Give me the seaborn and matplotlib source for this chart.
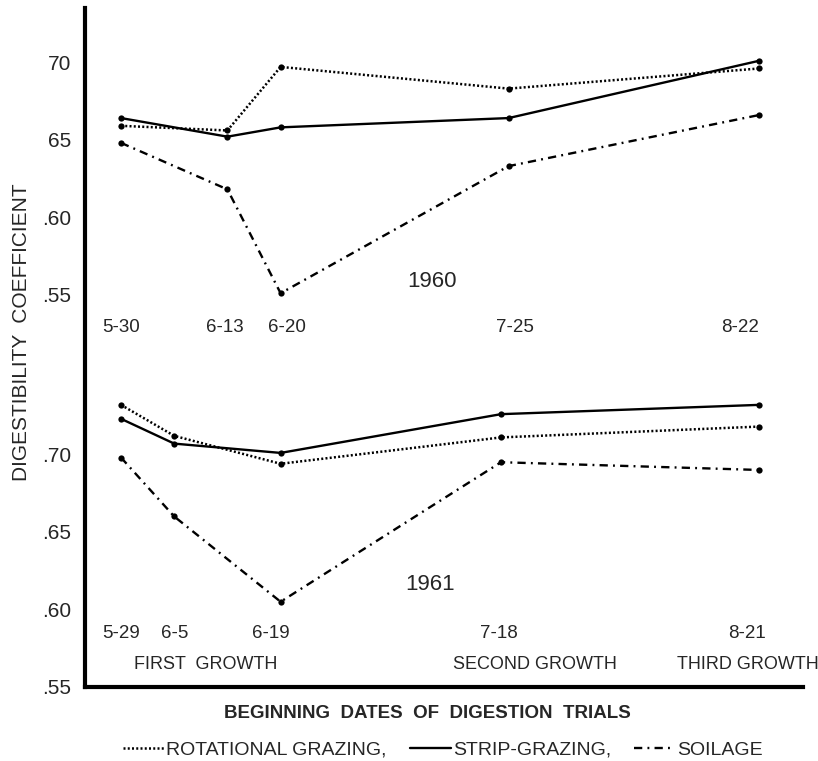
import numpy as np
import pandas as pd
import matplotlib.pyplot as plt
import seaborn as sns
from matplotlib.lines import Line2D

sns.set_style("white")
plt.rcParams['font.family'] = ['Liberation Sans', 'DejaVu Sans']

# --- data ---
treatments = ["Rotational grazing", "Strip-grazing", "Soilage"]

dates_1960 = ["5-30", "6-13", "6-20", "7-25", "8-22"]
day_1960 = [0, 14, 21, 51, 84]          # plotted position, days after first trial
rot_1960 = [0.659, 0.656, 0.697, 0.683, 0.696]
strip_1960 = [0.664, 0.652, 0.658, 0.664, 0.701]
soil_1960 = [0.648, 0.618, 0.551, 0.633, 0.666]

dates_1961 = ["5-29", "6-5", "6-19", "7-18", "8-21"]
day_1961 = [0, 7, 21, 50, 84]
rot_1961 = [0.732, 0.712, 0.694, 0.711, 0.718]
strip_1961 = [0.723, 0.707, 0.701, 0.726, 0.732]
soil_1961 = [0.698, 0.660, 0.605, 0.695, 0.690]

growth_labels = ["FIRST  GROWTH", "SECOND GROWTH", "THIRD GROWTH"]

# the 1960 panel is stacked above the 1961 one on the same axis
offset = {1960: 0.253, 1961: 0.0}

rows = []
for year, days, series in [(1960, day_1960, [rot_1960, strip_1960, soil_1960]),
                           (1961, day_1961, [rot_1961, strip_1961, soil_1961])]:
    for trt, vals in zip(treatments, series):
        for d, v in zip(days, vals):
            rows.append({"year": year, "treatment": trt, "day": d, "value": v})
df = pd.DataFrame(rows)
df["plot_y"] = df["value"] + df["year"].map(offset)

styles = {
    "Rotational grazing": (0, (0.8, 0.9)),
    "Strip-grazing": "-",
    "Soilage": (0, (3.5, 2.2, 0.8, 2.2)),
}
widths = {"Rotational grazing": 1.8, "Strip-grazing": 1.7, "Soilage": 1.7}

fig = plt.figure(figsize=(8.18, 7.61), dpi=100)
ax = fig.add_axes([85 / 818, 1 - 687 / 761, (803 - 85) / 818, (687 - 8) / 761])

for (year, trt), sub in df.groupby(["year", "treatment"]):
    sns.lineplot(data=sub, x="day", y="plot_y", color="black", lw=widths[trt],
                 linestyle=styles[trt], marker="o", ms=4.5, mew=0,
                 estimator=None, sort=False, ax=ax)

ax.set_xlim(-4.74, 89.74)
ax.set_ylim(0.55, 0.988)
ax.set_xticks([])
ticks_y = [0.55, 0.60, 0.65, 0.70, 0.55 + 0.253, 0.60 + 0.253, 0.65 + 0.253, 0.70 + 0.253]
ax.set_yticks(ticks_y)
ax.set_yticklabels([".55", ".60", ".65", ".70", ".55", ".60", "65", "70"], fontsize=15)
ax.tick_params(axis="y", length=0, pad=10)
ax.set_xlabel("")
ax.set_ylabel("")
sns.despine(ax=ax)
for s in ["left", "bottom"]:
    ax.spines[s].set_linewidth(3)
    ax.spines[s].set_color("black")

# date labels
nudge_1960 = [0, -0.4, 0.8, 0.8, -2.6]
nudge_1961 = [0, 0.1, -1.3, -0.3, -1.6]
for lab, d, n in zip(dates_1960, day_1960, nudge_1960):
    ax.text(d + n, 0.7816, lab, ha="center", va="center", fontsize=13.5)
for lab, d, n in zip(dates_1961, day_1961, nudge_1961):
    ax.text(d + n, 0.5848, lab, ha="center", va="center", fontsize=13.5)

for lab, x in zip(growth_labels, [11.2, 54.5, 82.5]):
    ax.text(x, 0.5642, lab, ha="center", va="center", fontsize=13, clip_on=False)

ax.text(40.9, 0.8113, "1960", ha="center", va="center", fontsize=16)
ax.text(40.7, 0.6158, "1961", ha="center", va="center", fontsize=16)

fig.text(22 / 818, 1 - 332 / 761, "DIGESTIBILITY  COEFFICIENT", rotation=90,
         ha="center", va="center", fontsize=15)
fig.text(427 / 818, 1 - 714 / 761, "BEGINNING  DATES  OF  DIGESTION  TRIALS",
         ha="center", va="center", fontsize=13.5, fontweight="bold")

handles = [Line2D([], [], color="black", lw=widths[t], linestyle=styles[t]) for t in treatments]
labels = ["ROTATIONAL GRAZING,", "STRIP-GRAZING,", "SOILAGE"]
fig.legend(handles, labels, loc="center", bbox_to_anchor=(443 / 818, 11 / 761),
           ncol=3, frameon=False, handlelength=2.1, handletextpad=0.1,
           columnspacing=1.2, prop={"size": 14})

fig.savefig("out.png", dpi=100)
